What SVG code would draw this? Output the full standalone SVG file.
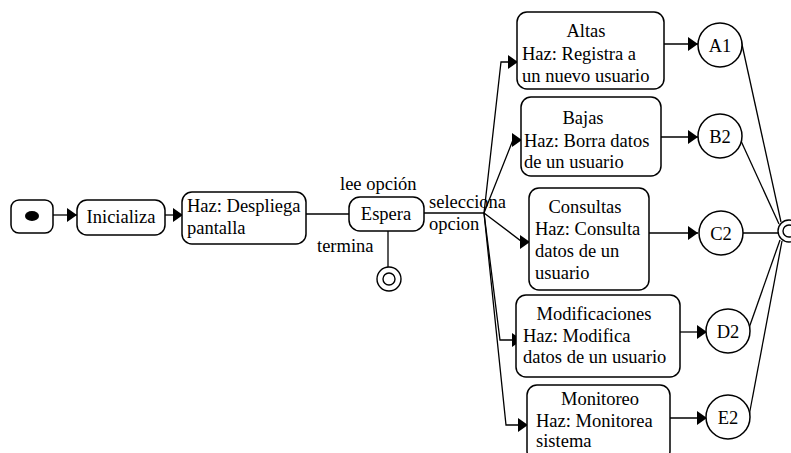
<svg xmlns="http://www.w3.org/2000/svg" width="791" height="453" viewBox="0 0 791 453">
  <style>
    .box { fill: #fff; stroke: #000; stroke-width: 1.5; }
    .wire { fill: none; stroke: #000; stroke-width: 1.3; }
    .lbl { font-size: 18.5px; fill: #000; }
    .mid { text-anchor: middle; }
  </style>
  <defs>
    <marker id="arrow" markerUnits="userSpaceOnUse" markerWidth="11" markerHeight="14" refX="10" refY="7" orient="0">
      <path d="M0,0 L10,7 L0,14 z" fill="#000"/>
    </marker>
  </defs>

  <rect width="791" height="453" fill="#fff"/>

  <!-- connectors -->
  <g id="connectors" class="wire">
    <path d="M53,215 L77,215" marker-end="url(#arrow)"/>
    <path d="M165,215 L183,215" marker-end="url(#arrow)"/>
    <path d="M306,214 L349,214"/>
    <path d="M388,231 L388,267"/>
    <path d="M424,213 L484,213"/>
    <path d="M484,213 L501,62 L518,62" marker-end="url(#arrow)"/>
    <path d="M484,213 L513,140 L522,140" marker-end="url(#arrow)"/>
    <path d="M484,213 L521,241 L530,242" marker-end="url(#arrow)"/>
    <path d="M484,213 L500,340 L522,340" marker-end="url(#arrow)"/>
    <path d="M484,213 L506,425 L528,425" marker-end="url(#arrow)"/>
    <path d="M664,44 L698,44" marker-end="url(#arrow)"/>
    <path d="M661,137 L698,137" marker-end="url(#arrow)"/>
    <path d="M649,233 L698,233" marker-end="url(#arrow)"/>
    <path d="M680,332 L707,332" marker-end="url(#arrow)"/>
    <path d="M670,418 L707,418" marker-end="url(#arrow)"/>
    <path d="M741,40 L781,222"/>
    <path d="M741,141 L779,224"/>
    <path d="M742,233 L778,233"/>
    <path d="M749,328 L780,240"/>
    <path d="M749,416 L782,241"/>
  </g>

  <g font-family="'Liberation Serif', 'DejaVu Serif', 'Times New Roman', serif">
  <!-- initial state -->
  <g id="inicio">
    <rect class="box" x="11" y="200" width="42" height="33" rx="8"/>
    <ellipse cx="32" cy="216" rx="7" ry="5" fill="#000"/>
  </g>

  <g id="inicializa">
    <rect class="box" x="77" y="200" width="88" height="35" rx="10"/>
    <text class="lbl mid" x="121" y="223">Inicializa</text>
  </g>

  <g id="despliega">
    <rect class="box" x="182" y="192" width="124" height="52" rx="10"/>
    <text class="lbl" x="187" y="212">Haz: Despliega</text>
    <text class="lbl" x="187" y="234">pantalla</text>
  </g>

  <g id="espera">
    <rect class="box" x="349" y="197" width="75" height="34" rx="11"/>
    <text class="lbl mid" x="386" y="220">Espera</text>
  </g>

  <!-- transition labels -->
  <g id="etiquetas">
    <text class="lbl" x="340" y="190">lee opción</text>
    <text class="lbl" x="317" y="252">termina</text>
    <text class="lbl" x="429" y="208">selecciona</text>
    <text class="lbl" x="429" y="230">opcion</text>
  </g>

  <!-- final state -->
  <g id="fin">
    <circle cx="389" cy="279" r="12" fill="#fff" stroke="#000" stroke-width="1.4"/>
    <circle cx="389" cy="279" r="6" fill="none" stroke="#000" stroke-width="1.4"/>
  </g>

  <g id="altas">
    <rect class="box" x="517" y="12" width="147" height="77" rx="10"/>
    <text class="lbl mid" x="586" y="37">Altas</text>
    <text class="lbl" x="522" y="60">Haz: Registra a</text>
    <text class="lbl" x="522" y="82">un nuevo usuario</text>
  </g>

  <g id="bajas">
    <rect class="box" x="521" y="97" width="140" height="79" rx="10"/>
    <text class="lbl mid" x="583" y="124">Bajas</text>
    <text class="lbl" x="524" y="147">Haz: Borra datos</text>
    <text class="lbl" x="524" y="168">de un usuario</text>
  </g>

  <g id="consultas">
    <rect class="box" x="529" y="188" width="120" height="102" rx="10"/>
    <text class="lbl mid" x="585" y="213">Consultas</text>
    <text class="lbl" x="535" y="235">Haz: Consulta</text>
    <text class="lbl" x="535" y="257">datos de un</text>
    <text class="lbl" x="535" y="279">usuario</text>
  </g>

  <g id="modificaciones">
    <rect class="box" x="516" y="295" width="164" height="82" rx="10"/>
    <text class="lbl mid" x="594" y="320">Modificaciones</text>
    <text class="lbl" x="523" y="342">Haz: Modifica</text>
    <text class="lbl" x="523" y="363">datos de un usuario</text>
  </g>

  <g id="monitoreo">
    <rect class="box" x="527" y="385" width="143" height="76" rx="10"/>
    <text class="lbl mid" x="600" y="405">Monitoreo</text>
    <text class="lbl" x="536" y="427">Haz: Monitorea</text>
    <text class="lbl" x="536" y="447">sistema</text>
  </g>

  <!-- end states of each branch -->
  <g id="A1">
    <circle class="box" cx="720" cy="45" r="22"/>
    <text class="lbl mid" x="720" y="52">A1</text>
  </g>
  <g id="B2">
    <circle class="box" cx="720" cy="136" r="22"/>
    <text class="lbl mid" x="720" y="143">B2</text>
  </g>
  <g id="C2">
    <circle class="box" cx="721" cy="233" r="22"/>
    <text class="lbl mid" x="721" y="240">C2</text>
  </g>
  <g id="D2">
    <circle class="box" cx="728" cy="331" r="22"/>
    <text class="lbl mid" x="728" y="338">D2</text>
  </g>
  <g id="E2">
    <circle class="box" cx="728" cy="417" r="22"/>
    <text class="lbl mid" x="728" y="424">E2</text>
  </g>

  <!-- merge state at the right edge -->
  <g id="union">
    <circle cx="789" cy="231" r="11" fill="#fff" stroke="#000" stroke-width="1.4"/>
    <circle cx="789" cy="231" r="6" fill="none" stroke="#000" stroke-width="1.4"/>
  </g>
  </g>
</svg>
